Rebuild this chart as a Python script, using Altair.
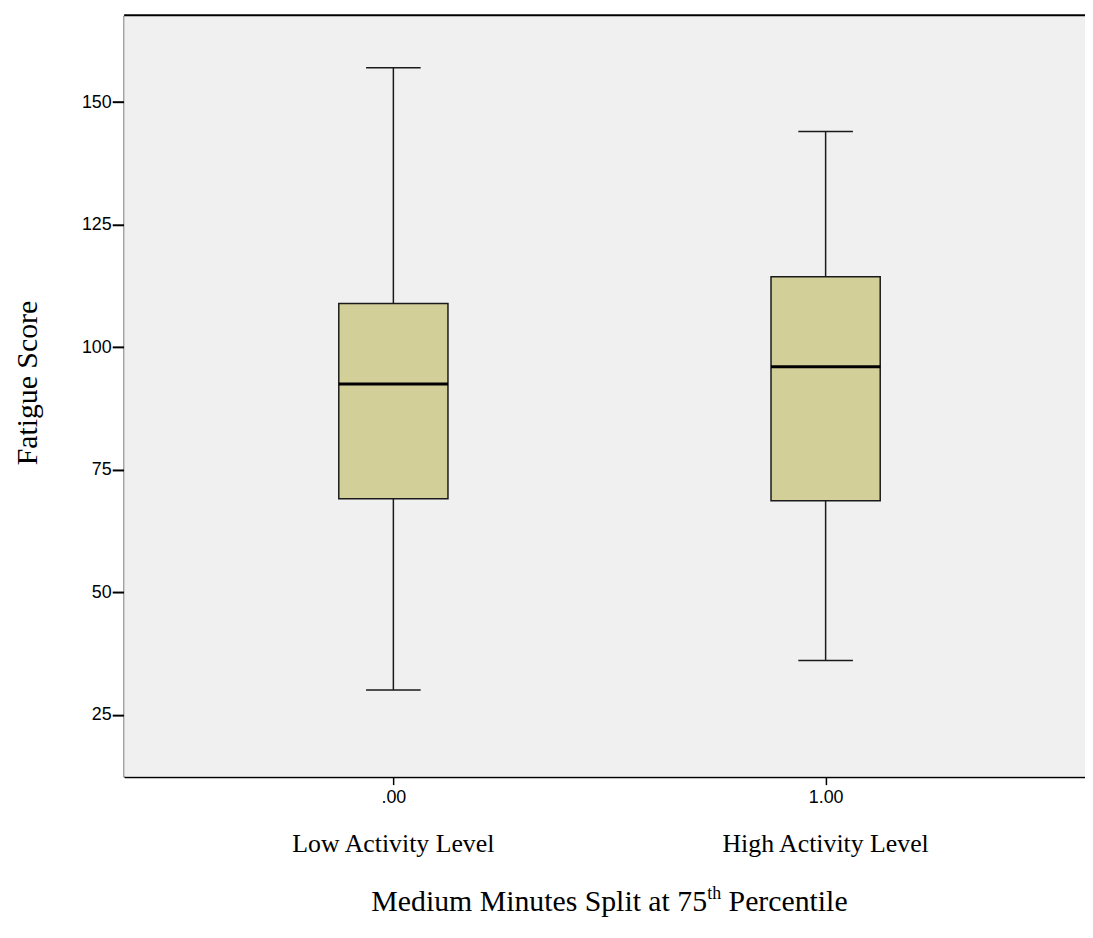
import altair as alt
import pandas as pd

# ---- data ----
groups = [0, 1]
tick_labels = [".00", "1.00"]
group_names = ["Low Activity Level", "High Activity Level"]
whisker_low = [30.1, 36.1]
q1 = [69.1, 68.7]
median = [92.5, 96.0]
q3 = [108.9, 114.4]
whisker_high = [157.0, 144.0]

df = pd.DataFrame({
    "g": groups,
    "name": group_names,
    "lo": whisker_low,
    "q1": q1,
    "med": median,
    "q3": q3,
    "hi": whisker_high,
})

# ---- layout ----
W, H = 968, 767
PAD = {"left": 117, "top": 4, "right": 0, "bottom": 142}
BOX_W = 110
CAP_W = 55
LINE = "#1a1a1a"
BG = "#f0f0f0"

x_scale = alt.Scale(domain=[-0.6114, 1.5886], nice=False, zero=False)
y_scale = alt.Scale(domain=[12.4, 167.7], nice=False, zero=False)

label_expr = "[" + ",".join("'" + t + "'" for t in tick_labels) + "][datum.value]"

x_axis = alt.Axis(
    values=groups, labelExpr=label_expr, grid=False,
    domainColor="black", domainWidth=2, tickColor="black", tickWidth=1.5,
    tickSize=8, labelFont="Liberation Sans", labelFontSize=18,
    labelColor="black", labelPadding=4, title=None,
)
y_axis = alt.Axis(
    values=[25, 50, 75, 100, 125, 150], grid=False,
    domainColor="black", domainWidth=2, tickColor="black", tickWidth=2,
    tickSize=12, labelFont="Liberation Sans", labelFontSize=18,
    labelColor="black", labelPadding=1,
    titleFont="Liberation Serif", titleFontSize=30, titleFontWeight="normal",
    titleColor="black", titlePadding=39, titleY=370,
)

# plot background
bg = alt.Chart(df.head(1)).mark_rect(fill=BG).encode(
    x=alt.value(0), x2=alt.value(W), y=alt.value(0), y2=alt.value(H)
)

base = alt.Chart(df).encode(
    x=alt.X("g:Q", scale=x_scale, axis=x_axis, title=None)
)

whisker = base.mark_rule(color=LINE, strokeWidth=1.5).encode(
    y=alt.Y("lo:Q", scale=y_scale, axis=y_axis, title="Fatigue Score"),
    y2="hi:Q",
)
box = base.mark_bar(size=BOX_W, fill="#d3cf98", stroke=LINE, strokeWidth=1.5,
                    opacity=1).encode(
    y=alt.Y("q1:Q", scale=y_scale), y2="q3:Q"
)
med = base.mark_tick(orient="horizontal", size=BOX_W, thickness=3, color="black",
                     opacity=1).encode(
    y=alt.Y("med:Q", scale=y_scale)
)
cap_lo = base.mark_tick(orient="horizontal", size=CAP_W, thickness=1.5, color=LINE,
                        opacity=1).encode(
    y=alt.Y("lo:Q", scale=y_scale)
)
cap_hi = base.mark_tick(orient="horizontal", size=CAP_W, thickness=1.5, color=LINE,
                        opacity=1).encode(
    y=alt.Y("hi:Q", scale=y_scale)
)

# category names under the tick labels
names = base.mark_text(font="Liberation Serif", fontSize=26, color="black",
                       baseline="middle").encode(
    text="name:N", y=alt.value(H + 68)
)

# top border of the plot frame
top_border = alt.Chart(df.head(1)).mark_rule(color="black", strokeWidth=2).encode(
    x=alt.value(0), x2=alt.value(W + 20), y=alt.value(0)
)

# x title with superscript "th"
TF = 30
SF = 18
main_txt = "Medium Minutes Split at 75"
sup_txt = "th"
rest_txt = "Percentile"
main_w = 11.279 * TF
sup_w = 0.778 * SF
space_w = 0.25 * TF
rest_w = 4.0 * TF
total = main_w + sup_w + space_w + rest_w
cx = 489
start = cx - total / 2
ty = H + 135

t_main = alt.Chart(df.head(1)).mark_text(
    font="Liberation Serif", fontSize=TF, align="left", baseline="alphabetic", color="black"
).encode(x=alt.value(start), y=alt.value(ty), text=alt.value(main_txt))
t_sup = alt.Chart(df.head(1)).mark_text(
    font="Liberation Serif", fontSize=SF, align="left", baseline="alphabetic", color="black"
).encode(x=alt.value(start + main_w), y=alt.value(ty - 12), text=alt.value(sup_txt))
t_rest = alt.Chart(df.head(1)).mark_text(
    font="Liberation Serif", fontSize=TF, align="left", baseline="alphabetic", color="black"
).encode(x=alt.value(start + main_w + sup_w + space_w), y=alt.value(ty), text=alt.value(rest_txt))

chart = alt.layer(
    bg, whisker, box, med, cap_lo, cap_hi, names, top_border, t_main, t_sup, t_rest
).properties(
    width=W, height=H, padding=PAD,
    autosize=alt.AutoSizeParams(type="none"),
).configure_view(
    fill=BG, stroke=None
).configure(background="white")

chart.save("out.html", embed_options={"renderer": "svg", "actions": False})
